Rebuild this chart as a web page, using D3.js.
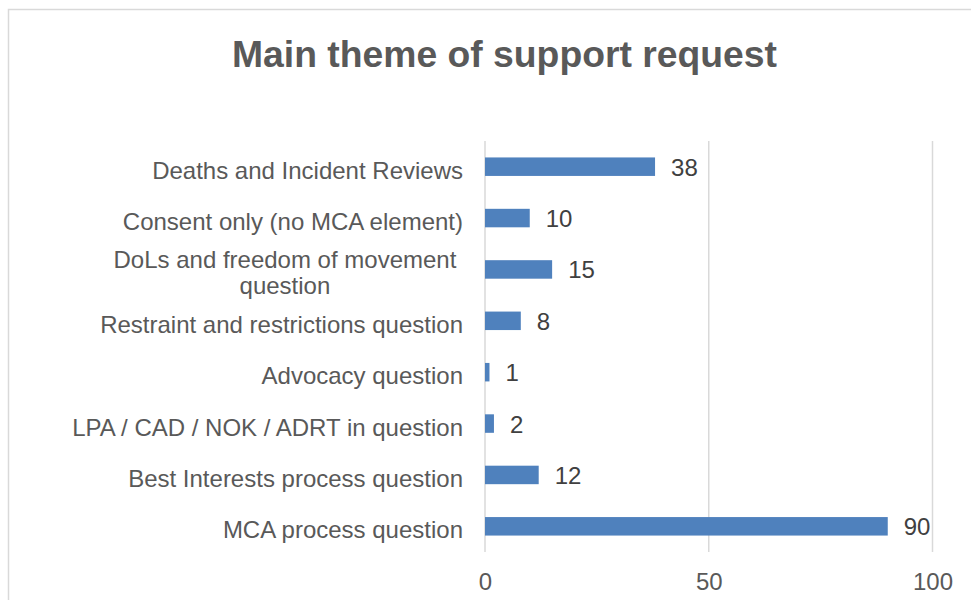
<!DOCTYPE html>
<html>
<head>
<meta charset="utf-8">
<script src="https://cdn.jsdelivr.net/npm/d3@7"></script>
<style>
  html, body { margin: 0; padding: 0; background: #fff; }
  svg { display: block; font-family: "Liberation Sans", Arial, sans-serif; }
</style>
</head>
<body>
<svg id="chart" width="971" height="600"></svg>
<script>
// Support requests by main theme (top to bottom)
const categories = [
  "Deaths and Incident Reviews",
  "Consent only (no MCA element)",
  "DoLs and freedom of movement question",
  "Restraint and restrictions question",
  "Advocacy question",
  "LPA / CAD / NOK / ADRT in question",
  "Best Interests process question",
  "MCA process question"
];
const counts = [38, 10, 15, 8, 1, 2, 12, 90];
const xTicks = [0, 50, 100];
// Long labels are wrapped onto these lines
const wrappedLabels = {
  "DoLs and freedom of movement question": ["DoLs and freedom of movement", "question"]
};
const chartTitle = "Main theme of support request";

const svg = d3.select("#chart");
const plot = { left: 485, right: 932.5, top: 141, bottom: 552 };

// Outer chart frame
svg.append("rect")
  .attr("x", 8.5).attr("y", 9.5)
  .attr("width", 1000).attr("height", 700)
  .attr("fill", "none").attr("stroke", "#d9d9d9").attr("stroke-width", 1.5);

svg.append("text")
  .attr("x", 504.5).attr("y", 67)
  .attr("text-anchor", "middle")
  .attr("font-size", 37.3).attr("font-weight", "bold")
  .attr("fill", "#595959")
  .text(chartTitle);

const x = d3.scaleLinear().domain([0, 100]).range([plot.left, plot.right]);
const y = d3.scaleBand().domain(categories)
  .range([plot.top, plot.bottom])
  .paddingInner(0.64).paddingOuter(0.32);

// Vertical gridlines
svg.append("g").selectAll("line").data(xTicks).join("line")
  .attr("x1", d => x(d)).attr("x2", d => x(d))
  .attr("y1", plot.top).attr("y2", plot.bottom)
  .attr("stroke", "#d9d9d9").attr("stroke-width", 1.5);

// Bottom axis tick labels
const xAxis = svg.append("g")
  .attr("transform", `translate(0,${plot.bottom})`)
  .call(d3.axisBottom(x).tickValues(xTicks).tickSize(0).tickPadding(0).tickFormat(d3.format("d")));
xAxis.select(".domain").remove();
xAxis.selectAll("text")
  .attr("y", 37.5).attr("dy", null)
  .attr("font-size", 24).attr("font-family", "Liberation Sans, Arial, sans-serif")
  .attr("fill", "#595959");

// Bars
svg.append("g").selectAll("rect").data(categories).join("rect")
  .attr("x", x(0))
  .attr("y", c => y(c))
  .attr("width", (c, i) => x(counts[i]) - x(0))
  .attr("height", y.bandwidth())
  .attr("fill", "#4f81bd");

// Value labels
svg.append("g").selectAll("text").data(categories).join("text")
  .attr("x", (c, i) => x(counts[i]) + 16)
  .attr("y", c => y(c) + y.bandwidth() / 2 + 9)
  .attr("font-size", 24).attr("fill", "#404040")
  .text((c, i) => counts[i]);

// Category labels
const labelRight = 463;
const catG = svg.append("g");
categories.forEach(c => {
  const cy = y(c) + y.bandwidth() / 2;
  const lines = wrappedLabels[c];
  if (!lines) {
    catG.append("text")
      .attr("x", labelRight).attr("y", cy + 12)
      .attr("text-anchor", "end")
      .attr("font-size", 24).attr("fill", "#595959")
      .text(c);
  } else {
    const t = catG.append("text")
      .attr("font-size", 24).attr("fill", "#595959")
      .attr("text-anchor", "middle");
    const first = t.append("tspan").text(lines[0]);
    const w = first.node().getComputedTextLength() + 6.7;
    const cx = labelRight - w / 2 - 3.3;
    first.attr("x", cx).attr("y", cy - 1);
    t.append("tspan").attr("x", cx).attr("y", cy + 25).text(lines[1]);
  }
});
</script>
</body>
</html>
